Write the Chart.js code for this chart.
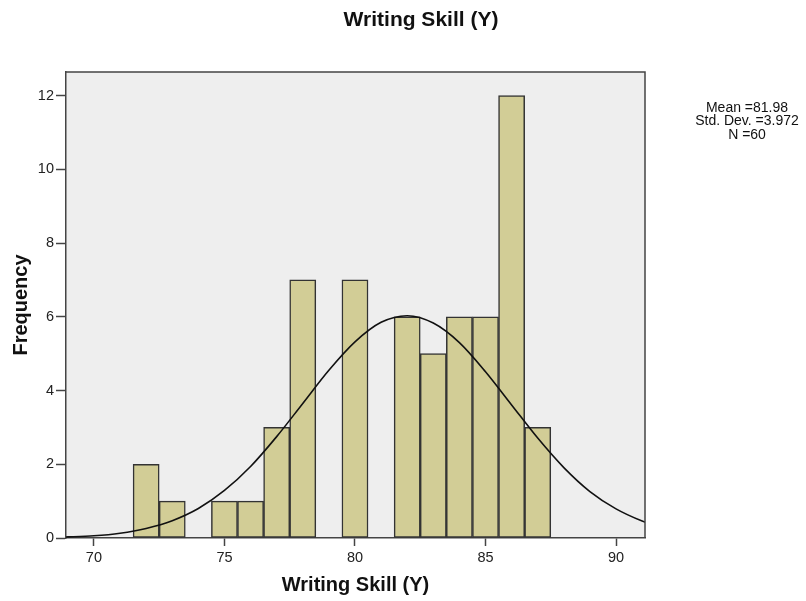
<!DOCTYPE html>
<html>
<head>
<meta charset="utf-8">
<script src="https://cdn.jsdelivr.net/npm/chart.js@4.4.1/dist/chart.umd.min.js"></script>
<style>
  html, body { margin: 0; padding: 0; background: #fff; }
  #wrap { width: 806px; height: 601px; }
</style>
</head>
<body>
<div id="wrap"><canvas id="chart" width="806" height="601"></canvas></div>
<script>
// histogram bins (value -> frequency)
const binCenters = [72, 73, 75, 76, 77, 78, 80, 82, 83, 84, 85, 86, 87];
const counts     = [2, 1, 1, 1, 3, 7, 7, 6, 5, 6, 6, 12, 3];

// normal curve
const curveX = [68.5, 69, 70, 71, 72, 73, 74, 75, 76, 77, 78, 79, 80, 81, 82, 83, 84, 85, 86, 87, 88, 89, 90, 91, 91.5];
const curveY = [0.02, 0.03, 0.06, 0.13, 0.26, 0.47, 0.80, 1.29, 1.94, 2.75, 3.65, 4.55, 5.32, 5.85, 6.03, 5.83, 5.30, 4.51, 3.61, 2.71, 1.91, 1.26, 0.79, 0.46, 0.34];

const xTicks = [70, 75, 80, 85, 90];
const yTicks = [0, 2, 4, 6, 8, 10, 12];
const statLines = ['Mean =81.98', 'Std. Dev. =3.972', 'N =60'];
const chartTitle = 'Writing Skill (Y)';

const FONT = '"Liberation Sans", Arial, sans-serif';

const plotBg = {
  id: 'plotBg',
  beforeDraw(chart) {
    const { ctx, chartArea: a } = chart;
    ctx.save();
    ctx.fillStyle = '#eeeeee';
    ctx.fillRect(a.left, a.top, a.right - a.left, a.bottom - a.top);
    ctx.restore();
  },
  afterDraw(chart) {
    const { ctx, chartArea: a } = chart;
    ctx.save();
    ctx.strokeStyle = '#444';
    ctx.lineWidth = 1.5;
    ctx.beginPath();
    ctx.moveTo(a.left, a.top);
    ctx.lineTo(a.right, a.top);
    ctx.lineTo(a.right, a.bottom);
    ctx.stroke();
    ctx.textAlign = 'center';
    ctx.textBaseline = 'middle';
    // title
    ctx.fillStyle = '#111';
    ctx.font = 'bold 21px ' + FONT;
    ctx.fillText(chartTitle, 421, 20);
    // stats box text
    ctx.font = '14px ' + FONT;
    statLines.forEach((s, i) => ctx.fillText(s, 747, 108 + i * 13.5));
    ctx.restore();
  }
};

const ctx = document.getElementById('chart').getContext('2d');
new Chart(ctx, {
  type: 'bar',
  data: {
    datasets: [
      {
        type: 'line',
        order: 0,
        data: curveX.map((x, i) => ({ x: x, y: curveY[i] })),
        borderColor: '#111',
        borderWidth: 1.6,
        pointRadius: 0,
        fill: false,
        cubicInterpolationMode: 'monotone'
      },
      {
        type: 'bar',
        order: 1,
        data: binCenters.map((x, i) => ({ x: x, y: counts[i] })),
        backgroundColor: '#d2cd96',
        borderColor: '#333',
        borderWidth: 1.5,
        borderSkipped: false,
        barPercentage: 1,
        categoryPercentage: 1
      }
    ]
  },
  options: {
    responsive: false,
    animation: false,
    layout: { padding: { left: 0, right: 161, top: 72, bottom: 0 } },
    plugins: {
      legend: { display: false },
      tooltip: { enabled: false },
      title: { display: false }
    },
    scales: {
      x: {
        type: 'linear',
        min: 68.93,
        max: 91.11,
        offset: false,
        afterFit(s) { s.height = 63; },
        afterBuildTicks(s) { s.ticks = xTicks.map(v => ({ value: v })); },
        grid: { offset: false, drawOnChartArea: false, drawTicks: true, tickLength: 8, tickColor: '#444', tickWidth: 1.5 },
        border: { display: true, color: '#444', width: 1.5 },
        ticks: { color: '#222', font: { family: FONT, size: 14.5 }, padding: 3 },
        title: {
          display: true,
          text: 'Writing Skill (Y)',
          color: '#111',
          font: { family: FONT, size: 20, weight: 'bold' },
          padding: { top: 4, bottom: 4 }
        }
      },
      y: {
        min: 0,
        max: 12.64,
        afterFit(s) { s.width = 66; },
        afterBuildTicks(s) { s.ticks = yTicks.map(v => ({ value: v })); },
        grid: { drawOnChartArea: false, drawTicks: true, tickLength: 10, tickColor: '#444', tickWidth: 1.5 },
        border: { display: true, color: '#444', width: 1.5 },
        ticks: { color: '#222', font: { family: FONT, size: 14.5 }, padding: 2 },
        title: {
          display: true,
          text: 'Frequency',
          color: '#111',
          font: { family: FONT, size: 20, weight: 'bold' },
          padding: { top: 9, bottom: 0 }
        }
      }
    }
  },
  plugins: [plotBg]
});
</script>
</body>
</html>
